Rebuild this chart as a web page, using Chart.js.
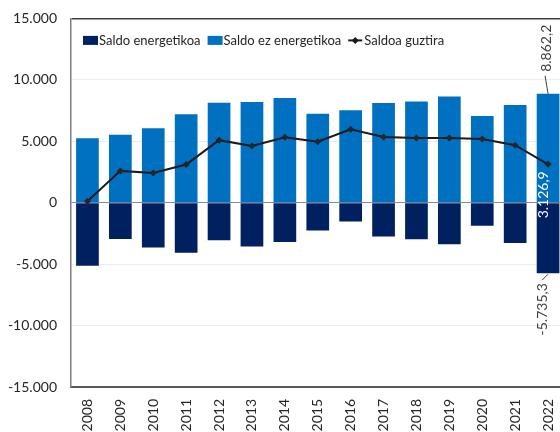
<!DOCTYPE html>
<html>
<head>
<meta charset="utf-8">
<script src="https://cdn.jsdelivr.net/npm/chart.js@4"></script>
<style>
  html, body { margin: 0; padding: 0; background: #fff; overflow: hidden; }
  #wrap { width: 577px; height: 436px; position: relative; margin-top: -4px; }
</style>
</head>
<body>
<div id="wrap"><canvas id="chart"></canvas></div>
<script>
// Data
const years = ['2008', '2009', '2010', '2011', '2012', '2013', '2014', '2015',
  '2016', '2017', '2018', '2019', '2020', '2021', '2022'];
const energyBalance = [-5130, -2950, -3650, -4080, -3050, -3570, -3190, -2270,
  -1540, -2760, -2970, -3380, -1870, -3270, -5735.3];
const nonEnergyBalance = [5250, 5540, 6060, 7190, 8140, 8190, 8520, 7240,
  7520, 8110, 8240, 8650, 7060, 7950, 8862.2];
const totalBalance = [120, 2590, 2410, 3110, 5090, 4620, 5330, 4970,
  5980, 5350, 5270, 5270, 5190, 4680, 3126.9];
const yTicks = [-15000, -10000, -5000, 0, 5000, 10000, 15000];

const FONT = 'Lato, "Liberation Sans", sans-serif';

// 12345.6 -> "12.345,6"
function fmt(v, decimals) {
  const neg = v < 0;
  const parts = Math.abs(v).toFixed(decimals).split('.');
  const intPart = parts[0].replace(/\B(?=(\d{3})+(?!\d))/g, '.');
  return (neg ? '-' : '') + intPart + (parts[1] ? ',' + parts[1] : '');
}

// legend drawn inside the plot area
const insideLegend = {
  id: 'insideLegend',
  afterDraw(chart) {
    const ctx = chart.ctx;
    const area = chart.chartArea;
    let x = area.left + 12;
    const y = area.top + 22;
    ctx.save();
    ctx.font = '13px ' + FONT;
    ctx.textBaseline = 'middle';
    ctx.fillStyle = '#262626';
    chart.data.datasets.forEach(ds => {
      if (ds.type === 'line') {
        ctx.strokeStyle = ds.borderColor;
        ctx.lineWidth = 2;
        ctx.beginPath();
        ctx.moveTo(x, y);
        ctx.lineTo(x + 14, y);
        ctx.stroke();
        ctx.fillStyle = ds.borderColor;
        ctx.beginPath();
        ctx.moveTo(x + 7, y - 3.5);
        ctx.lineTo(x + 10.5, y);
        ctx.lineTo(x + 7, y + 3.5);
        ctx.lineTo(x + 3.5, y);
        ctx.closePath();
        ctx.fill();
      } else {
        ctx.fillStyle = ds.backgroundColor;
        ctx.fillRect(x, y - 4.5, 15, 9);
      }
      x += 16;
      ctx.fillStyle = '#262626';
      ctx.fillText(ds.label, x, y + 0.5);
      x += ctx.measureText(ds.label).width + 7;
    });
    ctx.restore();
  }
};

// value labels for the last year
const lastLabels = {
  id: 'lastLabels',
  afterDatasetsDraw(chart) {
    const ctx = chart.ctx;
    const i = years.length - 1;
    const negBar = chart.getDatasetMeta(0).data[i];
    const posBar = chart.getDatasetMeta(1).data[i];
    const pt = chart.getDatasetMeta(2).data[i];
    ctx.save();
    ctx.font = '14px ' + FONT;
    ctx.textBaseline = 'middle';

    function vText(str, x, y, align, color) {
      ctx.save();
      ctx.translate(x, y);
      ctx.rotate(-Math.PI / 2);
      ctx.textAlign = align;
      ctx.fillStyle = color;
      ctx.fillText(str, 0, 0);
      ctx.restore();
    }

    // positive bar top
    ctx.strokeStyle = '#404040';
    ctx.lineWidth = 1;
    ctx.beginPath();
    ctx.moveTo(posBar.x, posBar.y);
    ctx.lineTo(posBar.x - 3, posBar.y - 18);
    ctx.stroke();
    vText(fmt(nonEnergyBalance[i], 1), posBar.x - 1.5, posBar.y - 22, 'left', '#404040');

    // total, inside the bar
    vText(fmt(totalBalance[i], 1), pt.x - 5, pt.y + 7, 'right', '#ffffff');

    // negative bar bottom
    ctx.beginPath();
    ctx.moveTo(negBar.x, negBar.y + 1);
    ctx.lineTo(negBar.x - 6, negBar.y + 7);
    ctx.stroke();
    vText(fmt(energyBalance[i], 1), negBar.x - 6, negBar.y + 10, 'right', '#404040');
    ctx.restore();
  }
};

new Chart(document.getElementById('chart'), {
  data: {
    labels: years,
    datasets: [
      {
        type: 'bar',
        label: 'Saldo energetikoa',
        data: energyBalance,
        backgroundColor: '#00205f',
        order: 2
      },
      {
        type: 'bar',
        label: 'Saldo ez energetikoa',
        data: nonEnergyBalance,
        backgroundColor: '#0070c0',
        order: 2
      },
      {
        type: 'line',
        label: 'Saldoa guztira',
        data: totalBalance,
        borderColor: '#1a1a1a',
        backgroundColor: '#1a1a1a',
        borderWidth: 2,
        pointStyle: 'rectRot',
        pointRadius: 3.5,
        pointBackgroundColor: '#262626',
        pointBorderWidth: 0,
        tension: 0,
        order: 1
      }
    ]
  },
  options: {
    responsive: true,
    maintainAspectRatio: false,
    animation: false,
    layout: { padding: { top: 12, right: 0, left: 0, bottom: 0 } },
    datasets: {
      bar: { categoryPercentage: 1, barPercentage: 0.69 }
    },
    plugins: {
      legend: { display: false },
      tooltip: { enabled: false }
    },
    scales: {
      x: {
        stacked: true,
        grid: { display: false, drawTicks: false },
        border: { display: true, color: '#595959', width: 2 },
        ticks: {
          color: '#262626',
          font: { family: FONT, size: 14 },
          minRotation: 90,
          maxRotation: 90,
          padding: 12,
          autoSkip: false
        },
        afterFit(scale) { scale.height = 45; }
      },
      y: {
        stacked: true,
        min: yTicks[0],
        max: yTicks[yTicks.length - 1],
        afterBuildTicks(scale) {
          scale.ticks = yTicks.map(v => ({ value: v }));
        },
        grid: {
          drawTicks: false,
          lineWidth: ctx => (ctx.tick && ctx.tick.value === 15000 ? 1.5 : 1),
          color: ctx => {
            if (!ctx.tick) return '#ececec';
            if (ctx.tick.value === 15000) return '#404040';
            if (ctx.tick.value === 0) return '#8c8c8c';
            return '#ececec';
          }
        },
        border: { display: true, color: '#7f7f7f', width: 1.5 },
        ticks: {
          color: '#262626',
          font: { family: FONT, size: 14 },
          padding: 14,
          callback: v => fmt(v, 0)
        },
        afterFit(scale) { scale.width = 71; }
      }
    }
  },
  plugins: [insideLegend, lastLabels]
});
</script>
</body>
</html>
